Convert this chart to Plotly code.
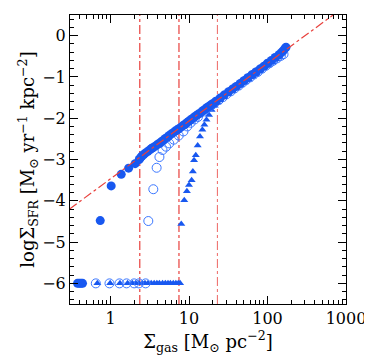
import plotly.graph_objects as go

BLUE = "#1858f0"
RED = "#e8403c"

# filled circles
filled_sigma = [0.38, 0.40, 0.42, 0.44, 0.74, 1.02, 1.37, 1.70, 2.06, 2.32,
                2.4, 2.5, 2.65, 2.8, 3.0, 3.2, 3.35, 3.5, 3.75, 4.0, 4.25, 4.5, 4.75,
                5.0, 5.3, 5.6, 5.95, 6.3, 6.7, 7.1, 7.5, 8.0, 8.5, 9.0, 9.5, 10, 10.5,
                11, 11.7, 12.5, 13.2, 14, 15, 16, 17, 18, 19, 20, 22, 25, 28, 32, 36,
                40, 45, 50, 56, 63, 71, 80, 90, 100, 112, 125, 140, 150, 158, 165, 172]
filled_logsfr = [-6.0, -6.0, -6.0, -6.0, -4.48, -3.64, -3.36, -3.21, -3.10, -3.00,
                 -2.96, -2.92, -2.88, -2.84, -2.80, -2.76, -2.73, -2.71, -2.67, -2.63,
                 -2.60, -2.56, -2.53, -2.49, -2.46, -2.42, -2.38, -2.35, -2.31, -2.28,
                 -2.25, -2.21, -2.17, -2.14, -2.10, -2.07, -2.04, -2.01, -1.97, -1.93,
                 -1.90, -1.87, -1.82, -1.78, -1.74, -1.71, -1.68, -1.65, -1.59, -1.51,
                 -1.44, -1.36, -1.29, -1.23, -1.16, -1.09, -1.02, -0.95, -0.88, -0.81,
                 -0.74, -0.67, -0.60, -0.53, -0.46, -0.41, -0.37, -0.32, -0.28]

# open circles
open_sigma = [0.65, 0.97, 1.30, 1.60, 2.0, 2.3, 2.8,
              3.03, 3.51, 3.87, 4.2, 4.6, 5.1, 5.6, 6.4, 7.4, 8.5, 9.5, 10.5, 11.8,
              13, 15, 17, 19, 21, 24, 27, 30, 34, 38, 43, 48, 53, 60, 67, 75, 85,
              95, 106, 118, 132, 148, 160]
open_logsfr = [-6.0, -6.0, -6.0, -6.0, -6.0, -6.0, -6.0,
               -4.49, -3.72, -3.20, -2.94, -2.77, -2.69, -2.61, -2.52, -2.42, -2.32,
               -2.20, -2.11, -2.03, -1.97, -1.84, -1.77, -1.70, -1.64, -1.56, -1.49,
               -1.42, -1.35, -1.28, -1.21, -1.14, -1.08, -1.01, -0.94, -0.88, -0.80,
               -0.73, -0.67, -0.61, -0.55, -0.49, -0.45]

# triangles
tri_sigma = [0.68, 0.99, 1.32, 1.65, 1.9, 2.1, 2.3, 2.55, 2.75, 3.0, 3.3, 3.6, 3.9,
             4.2, 4.6, 5.0, 5.4, 5.8, 6.3, 6.8, 7.3, 7.7,
             7.97, 8.7, 9.4, 10.0, 10.8, 11.2, 11.6, 12.2, 12.9, 13.8, 14.8, 15.7,
             16.7, 18.0, 19.4, 21.3, 23, 25, 28, 32, 36, 41, 46, 52, 58, 65, 73,
             82, 92, 104, 116, 130, 145]
tri_logsfr = [-6.0, -6.0, -6.0, -6.0, -6.0, -6.0, -6.0, -6.0, -6.0, -6.0, -6.0,
              -6.0, -6.0, -6.0, -6.0, -6.0, -6.0, -6.0, -6.0, -6.0, -6.0, -6.0,
              -4.56, -3.99, -3.77, -3.62, -3.50, -3.29, -3.02, -2.90, -2.66, -2.44,
              -2.28, -2.16, -2.04, -1.92, -1.80, -1.70, -1.62, -1.55, -1.49, -1.41,
              -1.34, -1.26, -1.19, -1.12, -1.06, -0.99, -0.92, -0.85, -0.78, -0.71,
              -0.65, -0.58, -0.53]

# Kennicutt-Schmidt reference line
ks_sigma = [0.3, 1000]
ks_logsfr = [-4.20, 0.73]

# thresholds
vline_sigma = [2.36, 7.45, 23.0]
vline_width = [1.2, 1.2, 0.8]

# tick positions
x_major = [1, 10, 100, 1000]
x_minor = [0.4, 0.5, 0.6, 0.7, 0.8, 0.9, 2, 3, 4, 5, 6, 7, 8, 9,
           20, 30, 40, 50, 60, 70, 80, 90, 200, 300, 400, 500, 600, 700, 800, 900]
y_major = [-6, -5, -4, -3, -2, -1, 0]

fig = go.Figure()
for xv, w in zip(vline_sigma, vline_width):
    fig.add_trace(go.Scatter(x=[xv, xv], y=[-6.5, 0.5], mode="lines",
                             line=dict(color=RED, width=w, dash="dashdot")))
fig.add_trace(go.Scatter(x=tri_sigma, y=tri_logsfr, mode="markers",
                         marker=dict(symbol="triangle-up", size=7, color=BLUE, line=dict(width=0))))
fig.add_trace(go.Scatter(x=open_sigma, y=open_logsfr, mode="markers",
                         marker=dict(symbol="circle-open", size=9, color="#3c78ff", line=dict(width=1))))
fig.add_trace(go.Scatter(x=filled_sigma, y=filled_logsfr, mode="markers",
                         marker=dict(symbol="circle", size=9, color=BLUE, line=dict(width=0))))
fig.add_trace(go.Scatter(x=ks_sigma, y=ks_logsfr, mode="lines",
                         line=dict(color=RED, width=1.2, dash="dashdot")))

font = dict(family="DejaVu Serif, serif", size=15, color="black")
axis_common = dict(showline=True, linecolor="black", linewidth=1, mirror="allticks",
                   ticks="inside", ticklen=8, tickcolor="black", showgrid=False,
                   zeroline=False, tickfont=dict(size=16))
fig.update_xaxes(type="log", range=[-0.516, 3], tickvals=x_major,
                 ticktext=[str(v) for v in x_major],
                 minor=dict(ticks="inside", ticklen=4, tickvals=x_minor, tickcolor="black", showgrid=False),
                 title=dict(text="Σ<sub>gas</sub> [M<sub>⊙</sub> pc<sup>−2</sup>]", standoff=4),
                 **axis_common)
fig.update_yaxes(range=[-6.5, 0.5], tickvals=y_major,
                 ticktext=[str(v).replace("-", "−") for v in y_major],
                 minor=dict(ticks="inside", ticklen=4, dtick=0.2, tickcolor="black", showgrid=False),
                 title=dict(text="logΣ<sub>SFR</sub> [M<sub>⊙</sub> yr<sup>−1</sup> kpc<sup>−2</sup>]", standoff=2),
                 **axis_common)
# page body adds an 8px margin, so the figure is sized to land the frame where the reference has it
fig.update_layout(width=364, height=356, margin=dict(l=62, r=23, t=6, b=60),
                  plot_bgcolor="white", paper_bgcolor="white", showlegend=False,
                  font=font)
fig.write_html("out.html")
